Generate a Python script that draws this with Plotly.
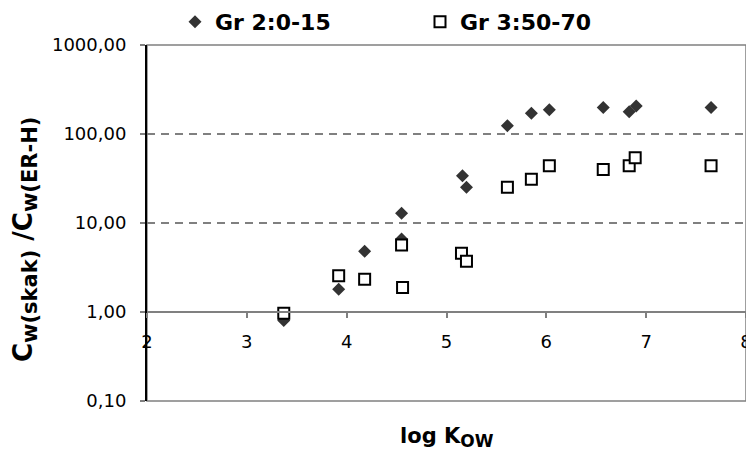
import plotly.graph_objects as go

# log Kow and concentration ratio for the two groups
gr2_logkow = [3.37, 3.92, 4.18, 4.55, 4.55, 5.16, 5.20, 5.61, 5.85, 6.03, 6.57, 6.83, 6.90, 7.65]
gr2_ratio = [0.80, 1.80, 4.8, 12.9, 6.6, 34.0, 25.2, 124.0, 171.0, 187.0, 198.0, 178.0, 206.0, 198.0]

gr3_logkow = [3.37, 3.92, 4.18, 4.55, 4.56, 5.15, 5.20, 5.61, 5.85, 6.03, 6.57, 6.83, 6.89, 7.65]
gr3_ratio = [0.97, 2.56, 2.33, 5.66, 1.89, 4.56, 3.71, 25.2, 31.0, 44.0, 40.0, 44.0, 54.0, 44.0]

x_ticks = [2, 3, 4, 5, 6, 7, 8]
y_ticks = [0.1, 1, 10, 100, 1000]
y_ticktext = ["0,10", "1,00", "10,00", "100,00", "1000,00"]

FONT = "DejaVu Sans"
GRAY = "#808080"


def sub(text, px):
    # subscript with an explicit size, larger than plotly's default 70 %
    return f'<sub><span style="font-size:{px}px">{text}</span></sub>'


fig = go.Figure()
fig.add_trace(go.Scatter(
    x=gr2_logkow, y=gr2_ratio, mode="markers", name="Gr 2:0-15",
    marker=dict(symbol="diamond", size=10, color="#333333", line=dict(width=0)),
))
fig.add_trace(go.Scatter(
    x=gr3_logkow, y=gr3_ratio, mode="markers", name="Gr 3:50-70",
    marker=dict(symbol="square", size=11, color="white", line=dict(color="black", width=2)),
))

# plot-area frame
fig.add_shape(type="rect", xref="x domain", yref="y domain", x0=0, x1=1, y0=0, y1=1,
              line=dict(color=GRAY, width=1.5), layer="below")

fig.update_layout(
    width=746, height=455,
    margin=dict(l=147, r=0, t=45, b=54),
    paper_bgcolor="white", plot_bgcolor="white",
    font=dict(family=FONT, size=18, color="black"),
    showlegend=True,
    legend=dict(
        orientation="h", x=(175 - 147) / 599, xanchor="left",
        y=1 + (45 - 22) / 356, yanchor="middle",
        font=dict(family=FONT, size=22, color="black", weight="bold"),
        entrywidth=200, bgcolor="rgba(0,0,0,0)",
    ),
    xaxis=dict(
        type="linear", range=[2, 8], anchor="free", position=0.25,
        tickvals=x_ticks, ticktext=[str(v) for v in x_ticks],
        showline=True, linecolor=GRAY, linewidth=2,
        ticks="outside", ticklen=5, tickcolor=GRAY, tickwidth=1.5,
        showgrid=False, zeroline=False, automargin=False,
        ticklabelstandoff=8, ticklabeloverflow="allow",
    ),
    yaxis=dict(
        type="log", range=[-1, 3],
        tickvals=y_ticks, ticktext=y_ticktext,
        showline=True, linecolor="black", linewidth=2,
        ticks="outside", ticklen=5, tickcolor=GRAY, tickwidth=1.5,
        showgrid=True, gridcolor=GRAY, gridwidth=1.5, griddash="8px,6px",
        zeroline=False, automargin=False, ticklabelstandoff=10,
    ),
    annotations=[
        dict(text="C" + sub("w(skak)", 21) + " /C" + sub("w(ER-H)", 21), textangle=-90,
             xref="paper", yref="paper", x=(25 - 147) / 599, y=(401 - 240) / 356,
             xanchor="center", yanchor="middle", showarrow=False,
             font=dict(family=FONT, size=26, weight="bold", color="black")),
        dict(text="log K" + sub("OW", 17),
             xref="paper", yref="paper", x=0.5, y=(401 - 437) / 356,
             xanchor="center", yanchor="middle", showarrow=False,
             font=dict(family=FONT, size=21, weight="bold", color="black")),
    ],
)

fig.write_html("out.html")
